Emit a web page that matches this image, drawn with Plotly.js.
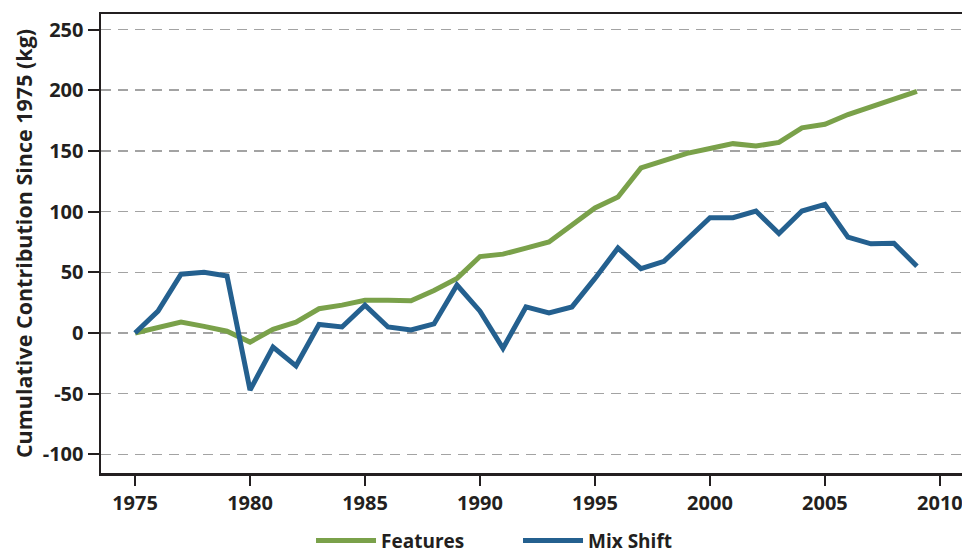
<!DOCTYPE html>
<html>
<head>
<meta charset="utf-8">
<script src="https://cdn.plot.ly/plotly-3.0.1.min.js"></script>
<style>
  html, body { margin: 0; padding: 0; background: #fff; }
  #chart { width: 962px; height: 554px; }
</style>
</head>
<body>
<div id="chart"></div>
<script>
// Data
const years = [1975, 1976, 1977, 1978, 1979, 1980, 1981, 1982, 1983, 1984,
               1985, 1986, 1987, 1988, 1989, 1990, 1991, 1992, 1993, 1994,
               1995, 1996, 1997, 1998, 1999, 2000, 2001, 2002, 2003, 2004,
               2005, 2006, 2007, 2008, 2009];
const features = [0, 4.5, 9, 5.5, 1.5, -7.5, 3, 9, 20, 23,
                  27, 27, 26.5, 35, 45, 63, 65, 70, 75, 89,
                  103, 112, 136, 142, 148, 152, 156, 154, 157, 169,
                  172, 180, 186, 193, 199];
const mixShift = [0, 18, 48.5, 50, 47, -47, -11.5, -27, 7, 5,
                  23, 5, 2.5, 7.5, 39.5, 18, -12.5, 21.5, 16.5, 21.5,
                  45, 70, 53, 59, 77, 95, 95, 100.5, 82, 100.5,
                  106, 79, 73.5, 74, 55];
const yTicks = [-100, -50, 0, 50, 100, 150, 200, 250];
const yTickText = ['-100', '-50', '0', '50', '100', '150', '200', '250'];
const xTicks = [1975, 1980, 1985, 1990, 1995, 2000, 2005, 2010];

const axisColor = '#231f20';
const fontFamily = '"Open Sans", "DejaVu Sans", sans-serif';

const traces = [
    {
        x: years,
        y: features,
        type: 'scatter',
        mode: 'lines',
        name: 'Features',
        line: { color: '#7aa14a', width: 5 }
    },
    {
        x: years,
        y: mixShift,
        type: 'scatter',
        mode: 'lines',
        name: 'Mix Shift',
        line: { color: '#24608f', width: 5 }
    }
];

const layout = {
    width: 962,
    height: 554,
    margin: { l: 101, r: 0, t: 14, b: 81, autoexpand: false },
    paper_bgcolor: '#ffffff',
    plot_bgcolor: '#ffffff',
    font: { family: fontFamily, color: axisColor, size: 20, weight: 'bold' },
    showlegend: true,
    legend: {
        orientation: 'h',
        xref: 'container',
        yref: 'container',
        x: 0.3233,
        xanchor: 'left',
        y: 0.024,
        yanchor: 'middle',
        font: { size: 19, weight: 'bold', color: axisColor },
        itemwidth: 60,
        entrywidth: 132,
        entrywidthmode: 'pixels',
        traceorder: 'normal'
    },
    xaxis: {
        range: [1973.52, 2010.96],
        tickvals: xTicks,
        showgrid: false,
        zeroline: false,
        showline: true,
        mirror: true,
        linecolor: axisColor,
        linewidth: 2.5,
        ticks: 'outside',
        ticklen: 10,
        tickwidth: 2,
        tickcolor: axisColor,
        tickfont: { size: 20, weight: 'bold' },
        ticklabeloverflow: 'allow',
        fixedrange: true
    },
    yaxis: {
        range: [-115.3, 262.8],
        tickvals: yTicks,
        ticktext: yTickText,
        showgrid: true,
        gridcolor: '#a3a3a3',
        gridwidth: 1.5,
        griddash: '10px,7px',
        zeroline: false,
        showline: true,
        linecolor: axisColor,
        linewidth: 2.5,
        ticks: 'outside',
        ticklen: 11,
        tickwidth: 2,
        tickcolor: axisColor,
        tickfont: { size: 20, weight: 'bold' },
        title: {
            text: 'Cumulative Contribution Since 1975 (kg)',
            font: { size: 21.5, weight: 'bold' },
            standoff: 4
        },
        fixedrange: true
    }
};

Plotly.newPlot('chart', traces, layout, { displayModeBar: false, staticPlot: true });
</script>
</body>
</html>
